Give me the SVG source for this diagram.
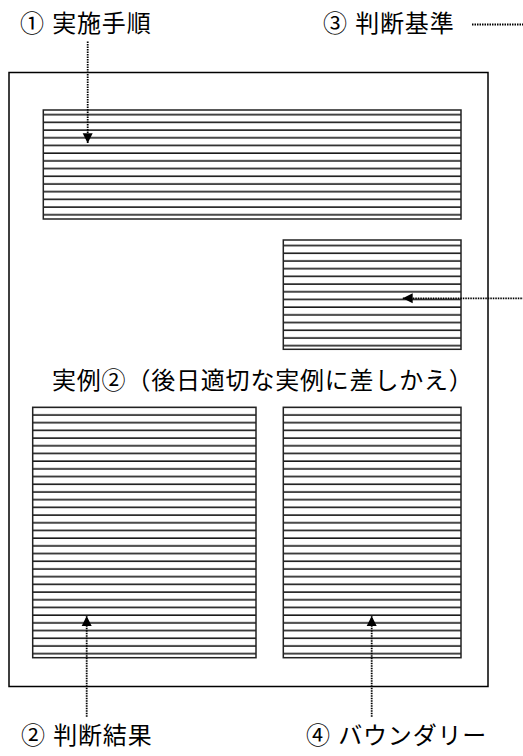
<svg xmlns="http://www.w3.org/2000/svg" width="523" height="756" viewBox="0 0 523 756">
<style>
.lbl{font-family:"Liberation Sans","Noto Sans CJK JP",sans-serif;font-size:24px;fill:#000;letter-spacing:0.8px}
.frame{fill:#fff;stroke:#000;stroke-width:1.5}
.box{fill:url(#hatch);stroke:#222;stroke-width:1.5}
.conn{fill:none;stroke:#000;stroke-width:1.8;stroke-dasharray:1.5 1}
</style>
<defs>
<pattern id="hatch" patternUnits="userSpaceOnUse" x="0" y="0" width="523" height="7.7">
<rect x="0" y="0" width="523" height="7.7" fill="#fff"/>
<rect x="0" y="6.1" width="523" height="1.9" fill="#1a1a1a"/>
</pattern>
<marker id="ah" markerUnits="userSpaceOnUse" markerWidth="11" markerHeight="11" refX="10" refY="5.5" orient="auto">
<path d="M0,0.5 L10,5.5 L0,10.5 Z" fill="#000"/>
</marker>
</defs>
<rect width="523" height="756" fill="#fff"/>
<g id="frame"><rect class="frame" x="9" y="72.5" width="479" height="614"/></g>
<g id="box-top"><rect class="box" x="43.3" y="110" width="417.7" height="109"/></g>
<g id="box-right"><rect class="box" x="283.3" y="240" width="177.7" height="109.3"/></g>
<g id="box-bottom-left"><rect class="box" x="32.7" y="407.3" width="223.3" height="250.4"/></g>
<g id="box-bottom-right"><rect class="box" x="283.3" y="407.3" width="177.7" height="250.4"/></g>
<g id="label-1"><text class="lbl" x="20" y="32">① 実施手順</text></g>
<g id="label-3"><text class="lbl" x="323" y="32">③ 判断基準</text></g>
<g id="label-example"><text class="lbl" x="52" y="389">実例②（後日適切な実例に差しかえ）</text></g>
<g id="label-2"><text class="lbl" x="21" y="744">② 判断結果</text></g>
<g id="label-4"><text class="lbl" x="306" y="744">④ バウンダリー</text></g>
<g id="connectors">
<path class="conn" d="M87.7,41.5 V143.3" marker-end="url(#ah)"/>
<path class="conn" d="M472,24.5 H540 V298.3 H402.7" marker-end="url(#ah)"/>
<path class="conn" d="M86.7,716.7 V616" marker-end="url(#ah)"/>
<path class="conn" d="M371.7,716.7 V616" marker-end="url(#ah)"/>
</g>
</svg>
